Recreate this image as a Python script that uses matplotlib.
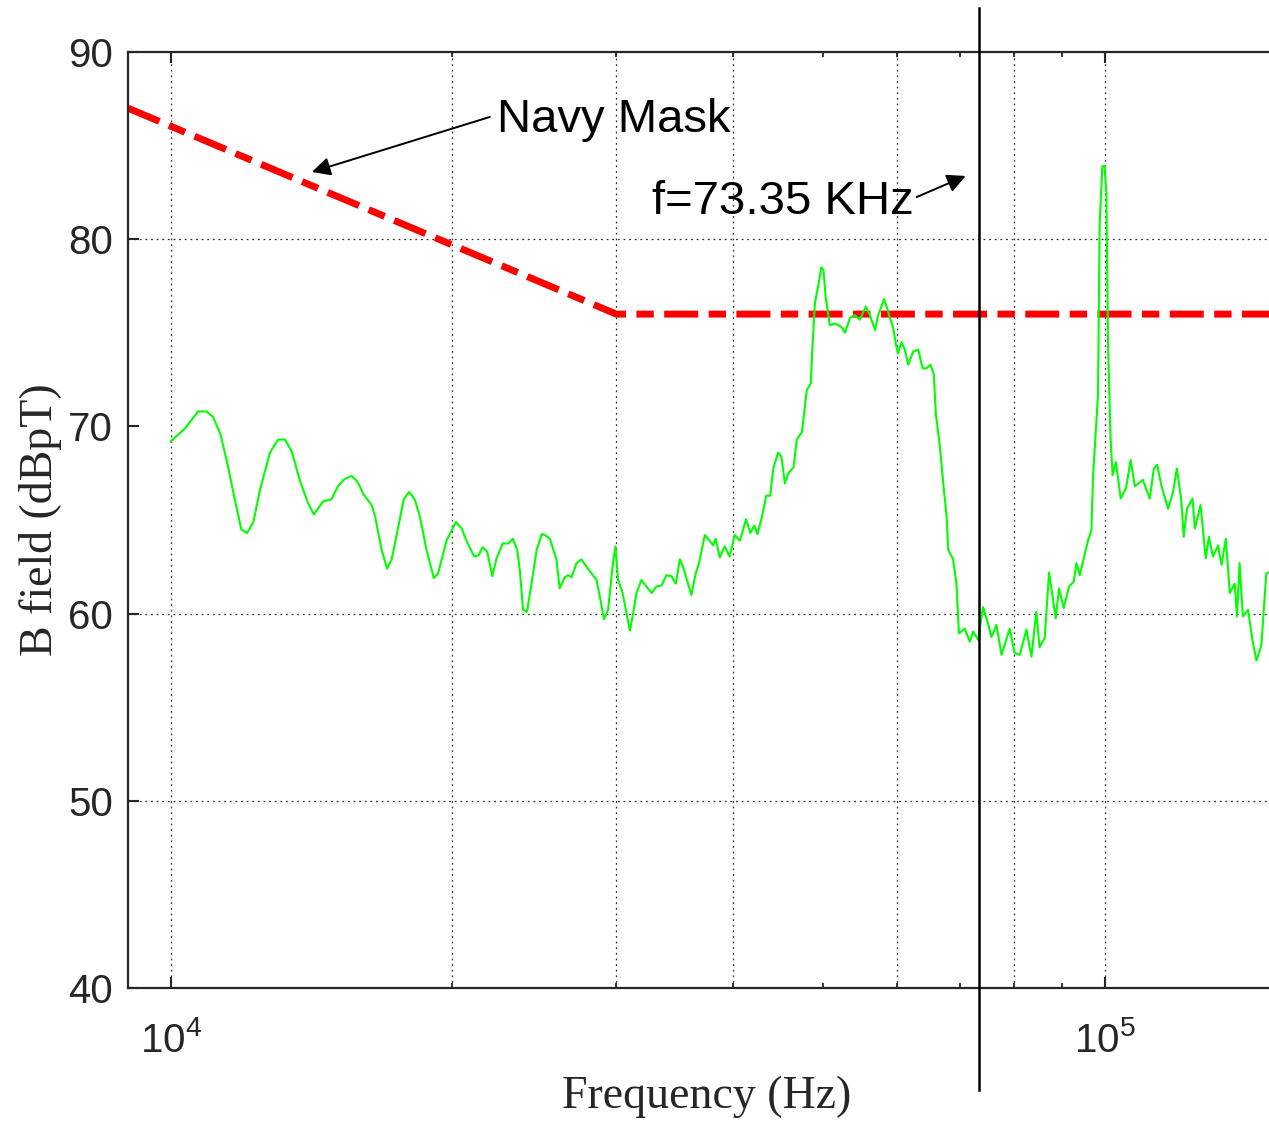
"""
B field spectrum against the Navy mask, with the 73.35 kHz marker
"""

import matplotlib

matplotlib.use("Agg")
import matplotlib.pyplot as plt
from matplotlib.ticker import LogLocator, NullFormatter, FixedLocator

plt.rcParams["font.family"] = "Liberation Sans"
plt.rcParams["mathtext.fontset"] = "custom"
plt.rcParams["mathtext.rm"] = "Liberation Sans"
plt.rcParams["mathtext.it"] = "Liberation Sans:italic"

# measured spectrum (kHz, dBpT)
freq_khz = [
    10.0, 10.36, 10.7, 10.92, 11.1, 11.3, 11.5, 11.7, 11.9, 12.07,
    12.26, 12.46, 12.77, 13.03, 13.25, 13.48, 13.75, 14.03, 14.23, 14.56,
    14.86, 15.1, 15.36, 15.62, 15.81, 15.94, 16.07, 16.41, 16.55, 16.82,
    17.05, 17.24, 17.52, 17.76, 18.0, 18.25, 18.48, 18.79, 19.13, 19.33,
    19.74, 20.2, 20.49, 20.75, 21.13, 21.35, 21.58, 21.82, 22.1, 22.33,
    22.67, 23.0, 23.24, 23.5, 23.65, 23.84, 24.07, 24.34, 24.65, 24.96,
    25.16, 25.47, 25.88, 26.09, 26.43, 26.64, 26.87, 27.2, 27.53, 27.97,
    28.57, 28.81, 29.1, 29.4, 29.72, 29.94, 30.13, 30.47, 30.77, 31.02,
    31.27, 31.53, 31.92, 32.32, 32.72, 33.13, 33.54, 33.94, 34.37, 34.74,
    35.09, 35.37, 35.66, 36.1, 36.49, 36.79, 37.32, 37.77, 38.08, 38.33,
    38.72, 39.2, 39.67, 40.17, 40.69, 41.32, 41.74, 42.16, 42.5, 42.97,
    43.42, 43.84, 44.18, 44.71, 45.07, 45.46, 45.84, 46.43, 46.82, 47.41,
    47.79, 47.99, 48.46, 48.64, 48.96, 49.35, 49.74, 50.0, 50.27, 50.79,
    51.44, 52.31, 52.73, 53.38, 54.03, 54.68, 55.5, 56.06, 56.77, 57.24,
    58.05, 58.43, 58.9, 59.36, 59.75, 60.08, 60.6, 61.11, 61.62, 62.39,
    63.16, 63.84, 64.46, 65.08, 65.63, 65.96, 66.63, 67.18, 67.74, 68.01,
    68.84, 69.4, 69.83, 70.84, 71.73, 72.32, 73.21, 74.11, 75.0, 75.65,
    76.6, 77.56, 79.14, 80.1, 81.12, 82.48, 83.5, 84.51, 85.19, 86.28,
    87.21, 88.66, 89.37, 90.41, 91.61, 92.68, 93.3, 94.05, 95.19, 95.99,
    96.8, 97.19, 98.39, 98.8, 99.45, 100.0, 100.44, 100.85, 101.47, 102.0,
    102.84, 104.06, 105.43, 106.64, 107.75, 109.9, 111.78, 112.92, 113.85, 115.1,
    116.97, 118.39, 119.52, 120.83, 121.54, 122.56, 124.23, 124.94, 126.7, 128.33,
    129.35, 130.63, 132.29, 133.42, 134.85, 136.18, 137.84, 138.6, 139.5, 140.64,
    142.43, 144.0, 145.43, 147.21, 149.0, 149.8,
]
b_field = [
    69.2, 69.9, 70.8, 70.8, 70.5, 69.6, 68.0, 66.2, 64.5, 64.3,
    64.9, 66.6, 68.6, 69.3, 69.3, 68.65, 67.1, 65.9, 65.3, 66.0,
    66.1, 66.8, 67.2, 67.35, 67.1, 66.8, 66.4, 65.8, 65.2, 63.4,
    62.4, 62.9, 64.6, 66.1, 66.5, 66.1, 65.2, 63.4, 61.9, 62.15,
    63.9, 64.9, 64.55, 63.85, 63.05, 63.1, 63.55, 63.3, 62.0, 62.95,
    63.75, 63.75, 64.0, 63.4, 62.3, 60.2, 60.1, 61.6, 63.4, 64.25,
    64.2, 64.0, 62.9, 61.35, 61.95, 62.05, 61.95, 62.7, 62.9, 62.4,
    61.8, 60.9, 59.7, 60.2, 62.5, 63.6, 61.8, 61.1, 60.0, 59.1,
    60.0, 61.1, 61.8, 61.45, 61.1, 61.45, 61.5, 62.05, 62.0, 61.6,
    62.9, 62.5, 61.9, 61.0, 62.15, 62.7, 64.2, 63.9, 63.65, 64.0,
    63.0, 63.6, 63.05, 64.2, 63.9, 65.05, 64.3, 64.7, 64.25, 65.2,
    66.3, 66.3, 67.75, 68.6, 68.4, 66.95, 67.5, 67.8, 69.3, 69.7,
    71.2, 71.95, 72.3, 74.1, 76.6, 77.5, 78.5, 78.35, 76.9, 75.4,
    75.5, 75.3, 75.0, 75.8, 75.95, 75.7, 76.4, 75.95, 75.15, 75.95,
    76.8, 76.4, 75.8, 75.3, 74.45, 73.9, 74.5, 74.1, 73.3, 74.0,
    74.1, 73.1, 73.1, 73.3, 72.8, 70.7, 68.9, 66.95, 65.2, 63.4,
    62.9, 61.6, 58.95, 59.2, 58.5, 59.05, 58.6, 60.35, 59.5, 58.75,
    59.4, 57.8, 59.2, 57.9, 57.8, 59.15, 57.7, 60.1, 58.2, 58.7,
    62.2, 59.75, 61.35, 60.3, 61.45, 61.7, 62.7, 62.05, 63.15, 63.9,
    64.45, 67.3, 71.7, 80.85, 83.9, 83.9, 82.45, 74.45, 69.45, 67.4,
    68.1, 66.15, 66.7, 68.2, 66.8, 67.15, 66.15, 67.75, 67.95, 66.8,
    65.6, 66.5, 67.75, 66.05, 64.1, 65.6, 66.15, 64.55, 65.8, 62.95,
    64.1, 63.05, 63.65, 62.6, 64.0, 61.1, 61.6, 59.85, 62.7, 59.85,
    60.2, 58.6, 57.5, 58.3, 62.15, 62.2,
]

# Navy mask corners (kHz, dBpT)
mask_khz = [9, 30, 150]
mask_db = [87, 76, 76]

marker_khz = 73.35

# dotted grid lines that survive in the original export
grid_khz = [10, 20, 30, 40, 60, 80, 100]
grid_db = [50, 60, 80]

y_ticks = [40, 50, 60, 70, 80, 90]

SPINE = "#262626"

fig = plt.figure(figsize=(12.69, 11.21), dpi=100)
ax = fig.add_axes([0.1009, 0.1186, 0.8991, 0.835])

for g in grid_khz:
    ax.axvline(g * 1000, color="#333333", lw=0.9, ls=(0, (1.5, 3)), zorder=1)
for g in grid_db:
    ax.axhline(g, color="#333333", lw=0.9, ls=(0, (1.5, 3)), zorder=1)

ax.plot(
    [m * 1000 for m in mask_khz],
    mask_db,
    color="#ff0000",
    lw=5,
    ls=(0, (4.9, 1.5, 2.5, 1.5)),
    zorder=2,
)
ax.plot([f * 1000 for f in freq_khz], b_field, color="#00ff00", lw=1.5, zorder=3)

ax.axvline(
    marker_khz * 1000, ymin=-0.109, ymax=1.047, color="black", lw=1.8,
    clip_on=False, zorder=5,
)

ax.set_xscale("log")
ax.set_xlim(9000, 150000)
ax.set_ylim(40, 90)
ax.set_yticks(y_ticks)
ax.xaxis.set_major_locator(FixedLocator([1e4, 1e5]))
ax.xaxis.set_minor_locator(LogLocator(base=10, subs=range(2, 10)))
ax.xaxis.set_minor_formatter(NullFormatter())

for side in ["top", "bottom", "left"]:
    ax.spines[side].set_linewidth(1.6)
    ax.spines[side].set_color(SPINE)
ax.spines["right"].set_visible(False)

ax.tick_params(axis="both", which="both", direction="in", colors=SPINE,
               top=True, right=False)
ax.tick_params(axis="both", which="major", length=8, width=1.5)
ax.tick_params(axis="x", which="minor", length=3.5, width=1.3)
ax.tick_params(axis="x", which="major", pad=24, labelsize=29)
ax.tick_params(axis="y", which="major", pad=11, labelsize=29)

ax.set_xlabel("Frequency (Hz)", family="Liberation Serif", fontsize=33,
              color=SPINE, va="center")
ax.xaxis.set_label_coords(0.507, -0.1165)
ax.set_ylabel("B field (dBpT)", family="Liberation Serif", fontsize=33,
              color=SPINE, va="center")
ax.yaxis.set_label_coords(-0.077, 0.5)

ax.annotate(
    "", xy=(14160, 83.59), xytext=(21960, 86.53),
    arrowprops=dict(arrowstyle="-|>", color="black", lw=1.4,
                    mutation_scale=28, shrinkA=0, shrinkB=0),
)
ax.text(22340, 85.73, "Navy Mask", fontsize=34, color="black", va="baseline")

ax.annotate(
    "", xy=(71000, 83.38), xytext=(62900, 82.25),
    arrowprops=dict(arrowstyle="-|>", color="black", lw=1.4,
                    mutation_scale=28, shrinkA=0, shrinkB=0),
)
ax.text(32740, 81.35, "f=73.35 KHz", fontsize=34, color="black", va="baseline")

fig.savefig("out.png", dpi=100, facecolor="white")
